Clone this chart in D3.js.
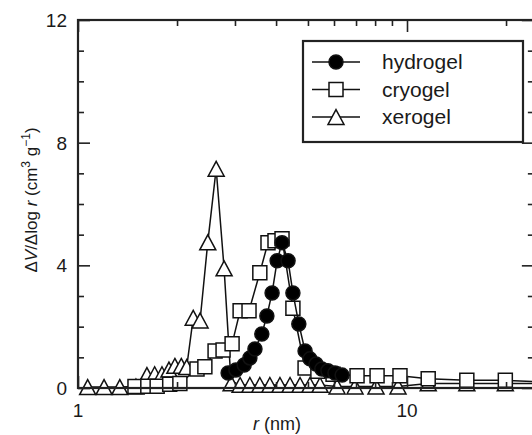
<!DOCTYPE html>
<html>
<head>
<meta charset="utf-8">
<script src="https://cdn.jsdelivr.net/npm/d3@7"></script>
<style>
  html, body { margin: 0; padding: 0; background: #fff; }
  svg { display: block; font-family: "Liberation Sans", Arial, sans-serif; }
</style>
</head>
<body>
<svg id="chart" width="532" height="435"></svg>
<script>
// Pore size distributions (BJH) of the three gels
const seriesNames = ["hydrogel", "cryogel", "xerogel"];

const hydrogelR = [2.86, 3.02, 3.20, 3.33, 3.45, 3.62, 3.75, 3.89, 4.03, 4.17,
                   4.35, 4.50, 4.69, 4.90, 5.07, 5.29, 5.51, 5.75, 6.04, 6.35];
const hydrogelV = [0.49, 0.59, 0.75, 0.98, 1.27, 1.76, 2.35, 3.10, 4.15, 4.74,
                   4.15, 3.10, 2.09, 1.21, 0.95, 0.78, 0.62, 0.56, 0.49, 0.42];

const cryogelR = [1.49, 1.63, 1.74, 1.90, 2.04, 2.30, 2.43, 2.61, 2.76, 2.94,
                  3.11, 3.31, 3.57, 3.78, 3.97, 4.17, 4.50, 4.90, 5.36, 5.96,
                  7.05, 8.11, 9.52, 11.6, 15.2, 19.9, 26.0];
const cryogelV = [0.05, 0.06, 0.06, 0.12, 0.15, 0.62, 0.69, 1.21, 1.24, 1.44,
                  2.52, 2.52, 3.76, 4.74, 4.80, 4.87, 2.60, 0.65, 0.55, 0.45,
                  0.40, 0.40, 0.40, 0.30, 0.25, 0.25, 0.20];

const xerogelR = [1.07, 1.20, 1.34, 1.50, 1.62, 1.71, 1.80, 1.89, 1.97, 2.06,
                  2.14, 2.24, 2.35, 2.48, 2.63, 2.78, 2.92, 3.11, 3.33, 3.57,
                  3.83, 4.11, 4.41, 4.73, 5.07, 5.44, 6.13, 6.95, 8.05, 9.39,
                  11.6, 15.2, 19.9, 26.0];
const xerogelV = [0.03, 0.03, 0.03, 0.05, 0.42, 0.45, 0.45, 0.60, 0.72, 0.72,
                  0.68, 2.29, 2.20, 4.75, 7.15, 3.90, 0.15, 0.10, 0.10, 0.10,
                  0.10, 0.10, 0.10, 0.10, 0.10, 0.10, 0.05, 0.05, 0.05, 0.05,
                  0.15, 0.15, 0.15, 0.15];

const xDomain = [1, 24.3];
const yDomain = [0, 12];
const xTickLabels = [1, 10];
const yTickLabels = [0, 4, 8, 12];

const svg = d3.select("#chart");
const padL = 78, padT = 20, baseY = 388;
const x = d3.scaleLog().domain(xDomain).range([padL, padL + 329 * Math.log10(xDomain[1])]);
const y = d3.scaleLinear().domain(yDomain).range([baseY, padT]);
const edgeR = x.range()[1];

const ink = "#111";
const markW = 1.5;

// clip for the data
svg.append("defs").append("clipPath").attr("id", "plotClip")
  .append("rect").attr("x", padL).attr("y", padT - 10)
  .attr("width", edgeR - padL).attr("height", baseY - padT + 20);

// marker shapes
const triangle = {
  draw(ctx, size) {
    const w = Math.sqrt(size), h = w * 0.93;
    ctx.moveTo(0, -h / 2);
    ctx.lineTo(w / 2, h / 2);
    ctx.lineTo(-w / 2, h / 2);
    ctx.closePath();
  }
};
const square = {
  draw(ctx, size) {
    const s = Math.sqrt(size) / 2;
    ctx.rect(-s, -s, 2 * s, 2 * s);
  }
};
const circle = {
  draw(ctx, size) {
    const r = Math.sqrt(size) / 2;
    ctx.moveTo(r, 0);
    ctx.arc(0, 0, r, 0, 2 * Math.PI);
  }
};

const series = [
  { name: "xerogel", r: xerogelR, v: xerogelV, shape: triangle, size: 16 * 16, fill: "#fff" },
  { name: "cryogel", r: cryogelR, v: cryogelV, shape: square, size: 14 * 14, fill: "#fff" },
  { name: "hydrogel", r: hydrogelR, v: hydrogelV, shape: circle, size: 14 * 14, fill: "#000" }
];

const plot = svg.append("g").attr("clip-path", "url(#plotClip)");
const line = d3.line().x(d => x(d[0])).y(d => y(d[1]));

series.forEach(s => {
  const pts = s.r.map((r, i) => [r, s.v[i]]);
  plot.append("path").datum(pts)
    .attr("d", line).attr("fill", "none")
    .attr("stroke", ink).attr("stroke-width", markW);
  plot.append("g").selectAll("path").data(pts).join("path")
    .attr("transform", d => `translate(${x(d[0])},${y(d[1])})`)
    .attr("d", d3.symbol(s.shape, s.size)())
    .attr("fill", s.fill).attr("stroke", ink).attr("stroke-width", markW);
});

// frame with inward ticks on all four sides
const frame = svg.append("g");
const xMajor = [1, 10];
const xMinor = [2, 3, 4, 5, 6, 7, 8, 9, 20];
const yMajor = d3.range(0, 13, 4);
const yMinor = d3.range(0, 13, 1).filter(v => v % 4 !== 0);
const bigT = 12, smallT = 6;

function tickSet(g, axisGen, ticks, len) {
  g.call(axisGen.tickValues(ticks).tickSize(len).tickFormat(""))
   .call(a => a.select(".domain").remove())
   .call(a => a.selectAll("line").attr("stroke", "#222").attr("stroke-width", 1.6));
}
[[xMajor, bigT], [xMinor, smallT]].forEach(([t, len]) => {
  tickSet(frame.append("g").attr("transform", `translate(0,${baseY})`), d3.axisTop(x), t, len);
  tickSet(frame.append("g").attr("transform", `translate(0,${padT})`), d3.axisBottom(x), t, len);
});
[[yMajor, bigT], [yMinor, smallT]].forEach(([t, len]) => {
  tickSet(frame.append("g").attr("transform", `translate(${padL},0)`), d3.axisRight(y), t, len);
  tickSet(frame.append("g").attr("transform", `translate(${edgeR},0)`), d3.axisLeft(y), t, len);
});

frame.append("rect")
  .attr("x", padL).attr("y", padT)
  .attr("width", edgeR - padL).attr("height", baseY - padT)
  .attr("fill", "none").attr("stroke", "#222").attr("stroke-width", 2.2);

// tick labels
svg.append("g").selectAll("text").data(yTickLabels).join("text")
  .attr("x", padL - 11).attr("y", d => y(d)).attr("dy", "0.36em")
  .attr("text-anchor", "end").attr("font-size", 19).attr("fill", "#1a1a1a")
  .text(d => d);
svg.append("g").selectAll("text").data(xTickLabels).join("text")
  .attr("x", d => x(d)).attr("y", baseY + 29)
  .attr("text-anchor", "middle").attr("font-size", 19).attr("fill", "#1a1a1a")
  .text(d => d);

// axis titles
const xt = svg.append("text").attr("x", 277).attr("y", 430)
  .attr("text-anchor", "middle").attr("font-size", 18).attr("fill", "#1a1a1a");
xt.append("tspan").attr("font-style", "italic").text("r");
xt.append("tspan").text(" (nm)");

const yt = svg.append("text")
  .attr("transform", "translate(37,200) rotate(-90)")
  .attr("text-anchor", "middle").attr("font-size", 17).attr("fill", "#1a1a1a");
yt.append("tspan").text("Δ");
yt.append("tspan").attr("font-style", "italic").text("V");
yt.append("tspan").text("/Δlog");
yt.append("tspan").attr("font-style", "italic").text(" r");
yt.append("tspan").text(" (cm");
yt.append("tspan").attr("font-size", 12).attr("dy", -7).text("3");
yt.append("tspan").attr("dy", 7).text(" g");
yt.append("tspan").attr("font-size", 12).attr("dy", -7).text("−1");
yt.append("tspan").attr("dy", 7).text(")");

// legend
const lg = svg.append("g");
lg.append("rect").attr("x", 303).attr("y", 41).attr("width", 220).attr("height", 101)
  .attr("fill", "#fff").attr("stroke", "#222").attr("stroke-width", 2.2);
seriesNames.forEach((name, i) => {
  const s = series.find(d => d.name === name);
  const cy = 62 + i * 27.5;
  lg.append("line").attr("x1", 312).attr("x2", 360).attr("y1", cy).attr("y2", cy)
    .attr("stroke", ink).attr("stroke-width", markW);
  lg.append("path").attr("transform", `translate(336,${cy})`)
    .attr("d", d3.symbol(s.shape, s.size)())
    .attr("fill", s.fill).attr("stroke", ink).attr("stroke-width", markW);
  lg.append("text").attr("x", 382).attr("y", cy).attr("dy", "0.35em")
    .attr("font-size", 21).attr("fill", "#1a1a1a").text(name);
});
</script>
</body>
</html>
